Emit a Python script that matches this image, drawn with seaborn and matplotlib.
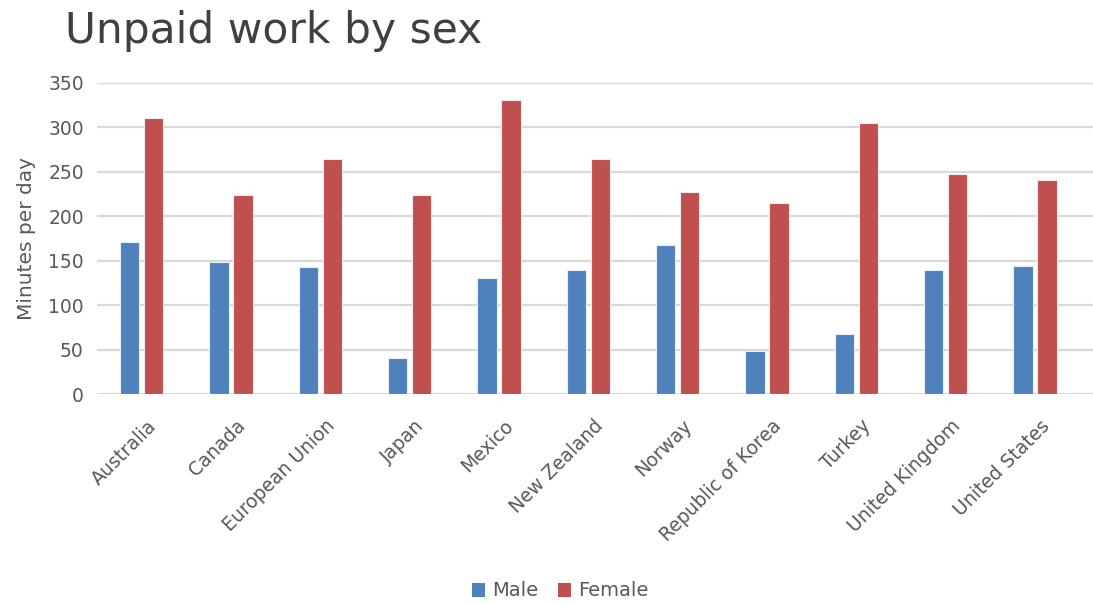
import matplotlib
matplotlib.use("Agg")
import matplotlib.pyplot as plt
import matplotlib.transforms as mtransforms
import seaborn as sns
import pandas as pd
from matplotlib.patches import Patch

countries = ["Australia", "Canada", "European Union", "Japan", "Mexico",
             "New Zealand", "Norway", "Republic of Korea", "Turkey",
             "United Kingdom", "United States"]
male = [171, 148, 143, 40, 131, 140, 168, 48, 67, 140, 144]
female = [311, 224, 264, 224, 331, 264, 227, 215, 305, 248, 241]
series = ["Male", "Female"]
colors = ["#4F81BD", "#C0504D"]

df = pd.DataFrame({
    "country": countries * 2,
    "sex": [series[0]] * len(countries) + [series[1]] * len(countries),
    "minutes": male + female,
})

sns.set_theme(style="white")
plt.rcParams["font.family"] = ["DejaVu Sans"]
text_col = "#595959"

fig = plt.figure(figsize=(10.93, 6.03), dpi=100)
ax = fig.add_axes([97 / 1093, 1 - 394 / 603, (1093 - 97) / 1093, (394 - 83) / 603])

sns.barplot(data=df, x="country", y="minutes", hue="sex", order=countries,
            hue_order=series, palette=colors, width=0.54, gap=0.2,
            edgecolor="#E8EEF7", linewidth=0.8, legend=False, ax=ax,
            saturation=1)

ax.set_ylim(0, 350)
ax.set_xlim(-0.5, 10.65)
ax.set_yticks(range(0, 351, 50))
ax.yaxis.grid(True, color="#D9D9D9", linewidth=1.6)
ax.set_axisbelow(True)
for s in ax.spines.values():
    s.set_visible(False)
ax.tick_params(axis="both", length=0, colors=text_col, labelsize=13.5)
ax.tick_params(axis="y", pad=9.5)
ax.tick_params(axis="x", pad=16)
ax.set_xlabel("")
ax.set_ylabel("Minutes per day", fontsize=14.5, color=text_col, labelpad=8.5)

# rotated category labels, nudged right of each group centre
shift = mtransforms.ScaledTranslation(5 / 100, 0, fig.dpi_scale_trans)
for lbl in ax.get_xticklabels():
    lbl.set_rotation(45)
    lbl.set_ha("right")
    lbl.set_rotation_mode("anchor")
    lbl.set_transform(lbl.get_transform() + shift)

fig.text(65 / 1093, 1 - 31 / 603, "Unpaid work by sex", fontsize=30.5,
         color="#404040", va="center", ha="left")

handles = [Patch(facecolor=c, edgecolor="none") for c in colors]
fig.legend(handles, series, loc="center", bbox_to_anchor=(560 / 1093, 1 - 591 / 603),
           ncol=2, frameon=False, fontsize=14, labelcolor=text_col,
           handlelength=0.7, handleheight=0.7, handletextpad=0.35,
           columnspacing=1.0)

fig.savefig("out.png", dpi=100)
